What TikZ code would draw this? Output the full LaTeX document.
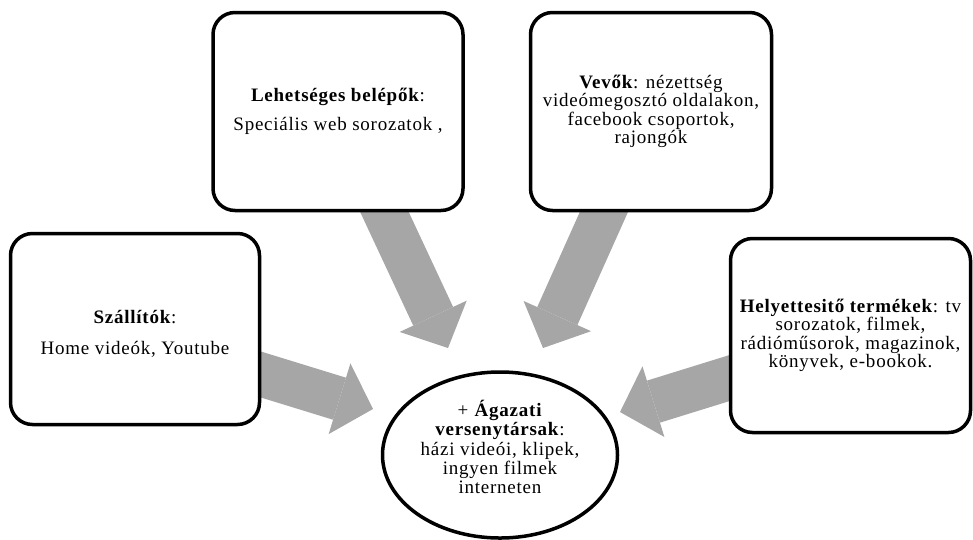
\documentclass[tikz,border=0pt]{standalone}
\usepackage{fontspec}
\setmainfont{Liberation Serif}[LetterSpace=4]
\usetikzlibrary{arrows.meta,shapes.geometric}
\definecolor{arrowgray}{RGB}{166,166,166}
\newcommand\shiftedlines[2]{\raisebox{#1}[\height][\depth]{\begin{tabular}{@{}c@{}}#2\end{tabular}}}
\tikzset{
  box/.style={draw=black, line width=3.5pt, rounded corners=22pt, fill=white,
    align=center, inner sep=1pt, font=\fontsize{19pt}{18.5pt}\selectfont},
  oval/.style={ellipse, draw=black, line width=3.5pt, fill=white,
    align=center, inner sep=0pt, font=\fontsize{19pt}{19.3pt}\selectfont},
  bigarrow/.style={draw=arrowgray, line width=44pt,
    -{Triangle[length=35pt,width=74pt,line width=0pt]}},
}
\begin{document}
\begin{tikzpicture}[x=1pt,y=-1pt]
\useasboundingbox (0,0) rectangle (973,539);
% arrow end points
\coordinate (s1) at (376.5,195);
\coordinate (t1) at (448,348);
\coordinate (s2) at (611.5,195);
\coordinate (t2) at (543,348);
\coordinate (s3) at (243,369);
\coordinate (t3) at (373,409);
\coordinate (s4) at (749,372);
\coordinate (t4) at (620,412);
\draw[bigarrow] (s1) -- (t1);
\draw[bigarrow] (s2) -- (t2);
\draw[bigarrow] (s3) -- (t3);
\draw[bigarrow] (s4) -- (t4);
% boxes
\node[box, minimum width=250pt, minimum height=198pt] (belepok) at (338,111.5)
  {\textbf{Lehetséges belépők}:\\[10pt]Speciális web sorozatok ,};
\node[box, minimum width=241pt, minimum height=198pt] (vevok) at (651,111.5)
  {\textbf{Vevők}: nézettség\\videómegosztó oldalakon,\\facebook csoportok,\\rajongók};
\node[box, minimum width=249pt, minimum height=191pt] (szallitok) at (135,329)
  {\shiftedlines{-6pt}{\textbf{Szállítók}:\\[12pt]Home videók, Youtube}};
\node[box, minimum width=240pt, minimum height=194pt] (helyettesito) at (850.5,335.5)
  {\textbf{Helyettesitő termékek}: tv\\sorozatok, filmek,\\rádióműsorok, magazinok,\\könyvek, e-bookok.};
\node[oval, minimum width=235pt, minimum height=166pt] (agazati) at (500,455)
  {\shiftedlines{5pt}{+ \textbf{Ágazati}\\\textbf{versenytársak}:\\házi videói, klipek,\\ingyen filmek\\interneten}};
\end{tikzpicture}
\end{document}
